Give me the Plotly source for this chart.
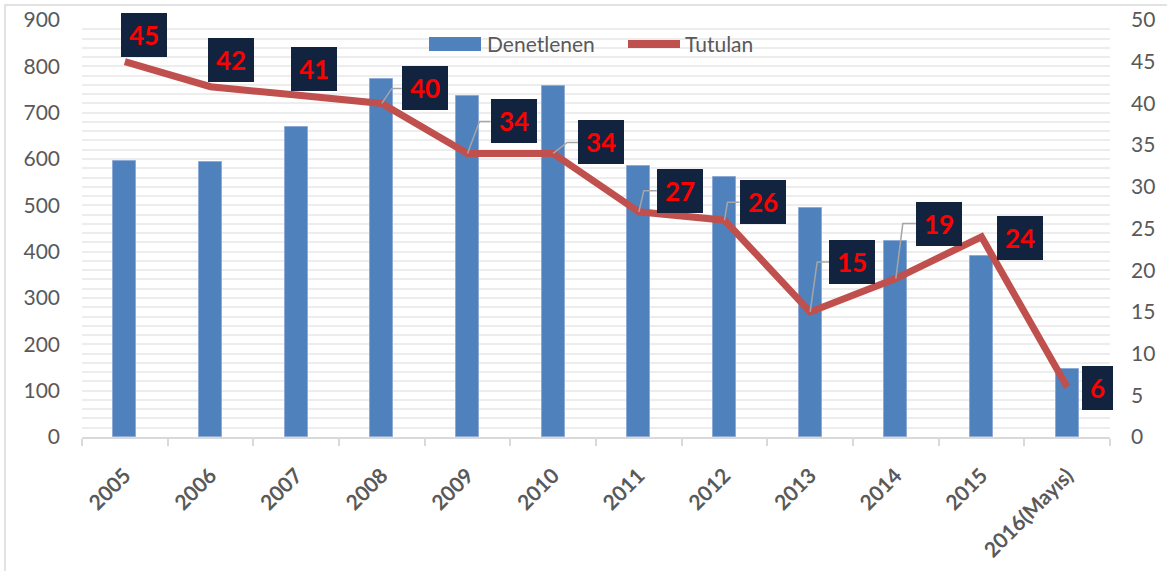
import plotly.graph_objects as go

categories = ["2005", "2006", "2007", "2008", "2009", "2010", "2011",
              "2012", "2013", "2014", "2015", "2016(Mayıs)"]
denetlenen = [596, 594, 670, 773, 737, 757, 585, 561, 494, 423, 390, 147]
tutulan = [45, 42, 41, 40, 34, 34, 27, 26, 15, 19, 24, 6]

# label box offsets (pixels, from each line point) and leader-line elbows
label_dx = [19, 20, 18, 43, 46, 48, 41, 38, 42, 43, 38, 30]
label_dy = [27, 27, 26, 15, 32, 11, 21, 18, 50, 55, -1, -1]
leader_dx = [None, None, None, 10, 12, 14, 5, 3, 7, 7, None, None]

FONT = "Lato, 'Open Sans', sans-serif"
GRAY = "#595959"
BOX = "#12233F"

idx = list(range(len(categories)))

fig = go.Figure()
fig.add_trace(go.Bar(
    x=idx, y=denetlenen, name="Denetlenen", width=0.27,
    marker=dict(color="#4F81BD", line=dict(color="#8EAAD6", width=1)),
    showlegend=False, yaxis="y"))
fig.add_trace(go.Scatter(
    x=idx, y=tutulan, name="Tutulan", mode="lines",
    line=dict(color="#C0504D", width=7),
    showlegend=False, yaxis="y2"))

shapes = []
annotations = []
for i, v, dx, dy, lx in zip(idx, tutulan, label_dx, label_dy, leader_dx):
    w = 46 if len(str(v)) > 1 else 31
    if lx is not None:
        ex = dx - w / 2
        shapes.append(dict(
            type="path", xref="x", yref="y2", xsizemode="pixel", ysizemode="pixel",
            xanchor=i, yanchor=v,
            path=f"M0,0 L{lx},{dy} L{ex},{dy}",
            line=dict(color="#A6A6A6", width=1.5)))
    annotations.append(dict(
        x=i, y=v, xref="x", yref="y2", showarrow=False,
        xshift=dx, yshift=dy, text=f"<b>{v}</b>",
        width=w, height=44, borderpad=0, borderwidth=0, bgcolor=BOX,
        font=dict(family=FONT, size=26, color="#FF0000")))

# outer chart border
def px_x(p):
    return (p - 82) / 1028

def px_y(p):
    return (437 - p) / 417

shapes.append(dict(type="rect", xref="paper", yref="paper",
                   x0=px_x(5), x1=px_x(1185), y0=px_y(590), y1=px_y(5),
                   line=dict(color="#D9D9D9", width=1.5), layer="below"))
# legend
shapes.append(dict(type="rect", xref="paper", yref="paper",
                   x0=px_x(429), x1=px_x(481), y0=px_y(51), y1=px_y(37),
                   fillcolor="#4F81BD", line=dict(width=0)))
shapes.append(dict(type="line", xref="paper", yref="paper",
                   x0=px_x(628), x1=px_x(680), y0=px_y(44), y1=px_y(44),
                   line=dict(color="#C0504D", width=8)))
annotations.append(dict(x=px_x(485), y=px_y(44), xref="paper", yref="paper",
                        xanchor="left", yanchor="middle", showarrow=False,
                        text="Denetlenen", font=dict(family=FONT, size=21, color=GRAY)))
annotations.append(dict(x=px_x(683), y=px_y(44), xref="paper", yref="paper",
                        xanchor="left", yanchor="middle", showarrow=False,
                        text="Tutulan", font=dict(family=FONT, size=21, color=GRAY)))

fig.update_layout(
    template="none",
    width=1167, height=571,
    margin=dict(l=82, r=57, t=20, b=134, autoexpand=False),
    paper_bgcolor="white", plot_bgcolor="white",
    font=dict(family=FONT, color=GRAY),
    showlegend=False,
    bargap=0,
    shapes=shapes, annotations=annotations,
    xaxis=dict(
        automargin=False,
        range=[-0.5, len(categories) - 0.5],
        tickmode="array", tickvals=idx, ticktext=[f"<b>{c}</b>" for c in categories],
        tickangle=-45, tickfont=dict(family=FONT, size=21, color=GRAY),
        ticks="", showgrid=False, zeroline=False,
        showline=True, linecolor="#D9D9D9", linewidth=2,
        ticklabelstandoff=16,
        minor=dict(tickmode="linear", tick0=-0.5, dtick=1, ticks="outside",
                   ticklen=7, tickcolor="#D9D9D9", tickwidth=2, showgrid=False)),
    yaxis=dict(
        automargin=False,
        range=[0, 900], tickmode="linear", tick0=0, dtick=100,
        tickfont=dict(family=FONT, size=21, color=GRAY),
        showgrid=True, gridcolor="#EDEDED", gridwidth=2,
        zeroline=False, showline=False, ticks="",
        ticklabelstandoff=21,
        minor=dict(tickmode="linear", tick0=0, dtick=20, showgrid=True,
                   gridcolor="#EDEDED", gridwidth=2)),
    yaxis2=dict(
        automargin=False,
        range=[0, 50], tickmode="linear", tick0=0, dtick=5,
        overlaying="y", side="right",
        tickfont=dict(family=FONT, size=21, color=GRAY),
        showgrid=False, zeroline=False, showline=False, ticks="",
        ticklabelstandoff=20),
)

fig.write_html("out.html", config={"displayModeBar": False},
               post_script="document.body.style.margin='0';")
